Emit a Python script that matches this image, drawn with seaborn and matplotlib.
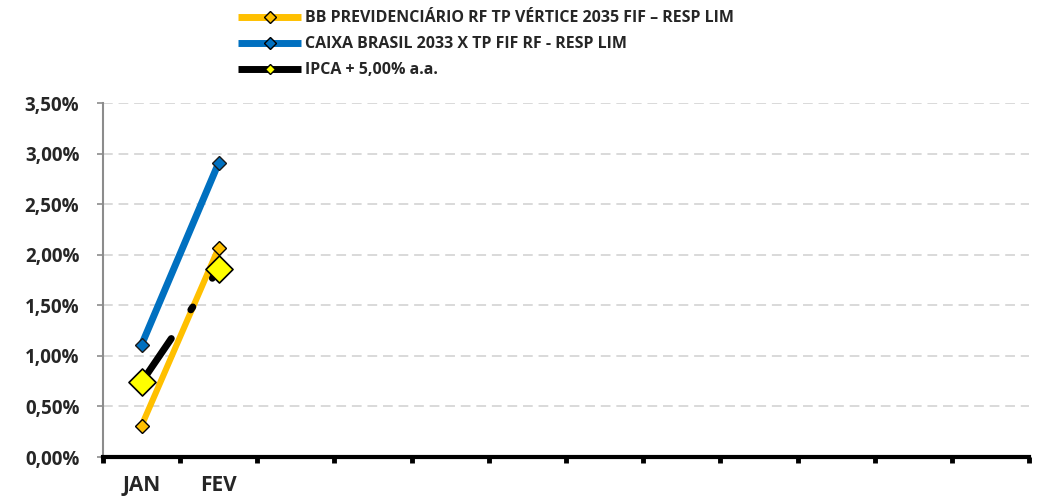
import matplotlib
matplotlib.use("Agg")
import matplotlib.pyplot as plt
import seaborn as sns
import numpy as np
from matplotlib.ticker import FuncFormatter, FixedLocator
from matplotlib.lines import Line2D

# data (in %)
months = ['JAN', 'FEV', 'MAR', 'ABR', 'MAI', 'JUN', 'JUL', 'AGO', 'SET', 'OUT', 'NOV', 'DEZ']
bb_vals = [0.31, 2.07]
caixa_vals = [1.11, 2.91]
ipca_vals = [0.74, 1.86]
names = ['BB PREVIDENCIÁRIO RF TP VÉRTICE 2035 FIF – RESP LIM',
         'CAIXA BRASIL 2033 X TP FIF RF - RESP LIM',
         'IPCA + 5,00% a.a.']

sns.set_style("white")
plt.rcParams['font.family'] = ['Open Sans', 'DejaVu Sans']
plt.rcParams['font.weight'] = 'bold'

fig = plt.figure(figsize=(10.41, 5.0), dpi=100)
ax = fig.add_axes([103/1041, 43/500, (1029-103)/1041, (457-103)/500])

n = len(bb_vals)
x = np.arange(n)

sns.lineplot(x=x, y=bb_vals, ax=ax, color='#FFC000', linewidth=4.4,
             marker='D', markersize=7.5, markerfacecolor='#FFC000',
             markeredgecolor='black', markeredgewidth=1.0, zorder=3)
sns.lineplot(x=x, y=caixa_vals, ax=ax, color='#0070C0', linewidth=5.0,
             marker='D', markersize=7.5, markerfacecolor='#0070C0',
             markeredgecolor='#1a1a1a', markeredgewidth=1.0, zorder=3)
ipca_line = sns.lineplot(x=x, y=ipca_vals, ax=ax, color='black', linewidth=5.0,
                         zorder=4).lines[-1]
ipca_line.set_dashes([7.6, 5.0, 0.5, 5.0])
ipca_line.set_dash_capstyle('round')
ax.scatter(x, ipca_vals, marker='D', s=190, color='#FFFF00',
           edgecolor='black', linewidth=1.2, zorder=5)

ax.set_xlim(-0.5, len(months) - 0.5)
ax.set_ylim(0, 3.5)

# y axis
ax.yaxis.set_major_locator(FixedLocator(np.arange(0, 3.51, 0.5)))
ax.yaxis.set_major_formatter(FuncFormatter(lambda v, p: f"{v:.2f}%".replace('.', ',')))
ax.tick_params(axis='y', left=True, length=4.5, width=1.2, color='#8c8c8c',
               labelsize=13.5, pad=12.5)
ax.grid(axis='y', color='#d9d9d9', linestyle=(0, (5, 3)), linewidth=1.4)
ax.set_axisbelow(True)

# x axis: boundary ticks, centred labels
ax.set_xticks(np.arange(-0.5, len(months), 1.0))
ax.set_xticklabels([])
ax.tick_params(axis='x', which='major', bottom=True, length=4, width=3.5,
               color='black', direction='out')
ax.set_xticks(x, months[:n], minor=True)
ax.tick_params(axis='x', which='minor', bottom=True, length=0, labelsize=15, pad=13)

for s in ['top', 'right']:
    ax.spines[s].set_visible(False)
ax.spines['left'].set_color('#8c8c8c')
ax.spines['left'].set_linewidth(1.5)
ax.spines['bottom'].set_color('black')
ax.spines['bottom'].set_linewidth(3)
ax.set_xlabel('')
ax.set_ylabel('')

handles = [
    Line2D([], [], color='#FFC000', linewidth=5, marker='D', markersize=6,
           markerfacecolor='#FFC000', markeredgecolor='black', solid_capstyle='butt'),
    Line2D([], [], color='#0070C0', linewidth=5, marker='D', markersize=6,
           markerfacecolor='#0070C0', markeredgecolor='black', solid_capstyle='butt'),
    Line2D([], [], color='black', linewidth=5, marker='D', markersize=5,
           markerfacecolor='#FFFF00', markeredgecolor='black', solid_capstyle='butt'),
]
fig.legend(handles, names, loc='upper left', bbox_to_anchor=(228/1041, 1.0),
           frameon=False, fontsize=11.5, handlelength=3.9, handletextpad=0.25,
           labelspacing=0.62, borderaxespad=0.25)

fig.savefig('out.png', dpi=100)
